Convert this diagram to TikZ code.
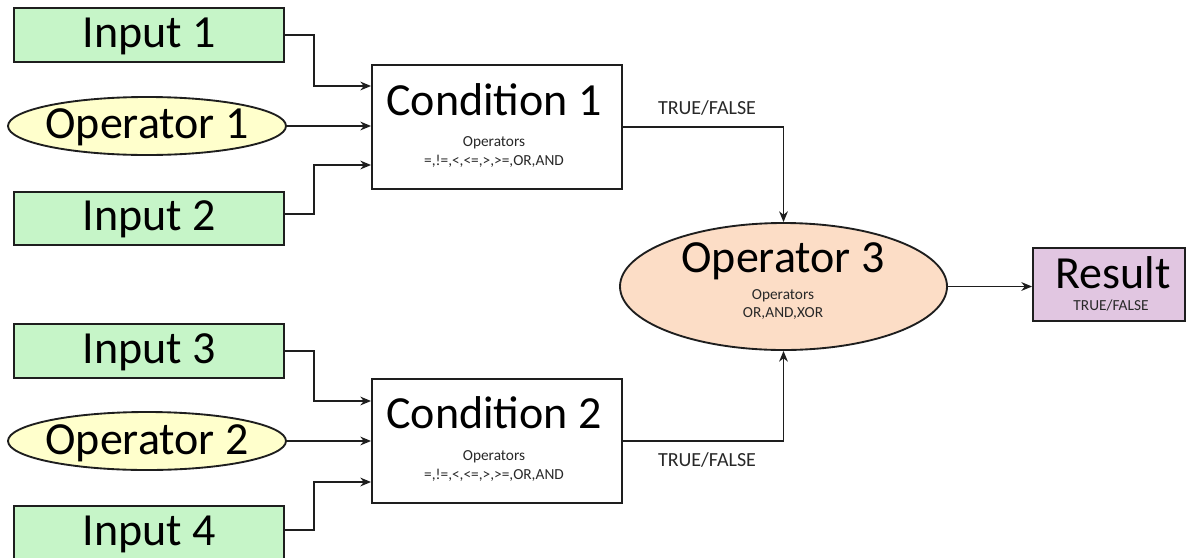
\documentclass[tikz,border=0pt]{standalone}
\usepackage{fontspec}
\setmainfont{Carlito}
\usetikzlibrary{shapes.geometric,arrows.meta,calc}
\definecolor{ingreen}{RGB}{198,245,200}
\definecolor{opyellow}{RGB}{255,255,204}
\definecolor{oppeach}{RGB}{252,221,198}
\definecolor{reslav}{RGB}{225,198,225}
\definecolor{linec}{RGB}{30,30,30}
\definecolor{smallc}{RGB}{40,40,40}
\tikzset{
  inbox/.style={draw=linec,line width=1.4pt,fill=ingreen,rectangle,inner sep=0pt,minimum width=202.5pt,minimum height=40.5pt},
  opell/.style={draw=linec,line width=1.4pt,fill=opyellow,ellipse,inner sep=0pt,minimum width=208.5pt,minimum height=43.5pt},
  condbox/.style={draw=linec,line width=1.4pt,fill=white,rectangle,inner sep=0pt,minimum width=187.5pt,minimum height=93pt},
  bigtxt/.style={anchor=base,inner sep=0pt,font=\fontsize{34.5pt}{36pt}\selectfont,text=black},
  smalltxt/.style={anchor=base,inner sep=0pt,font=\fontsize{11.5pt}{13pt}\selectfont,text=smallc},
  tftxt/.style={anchor=base,inner sep=0pt,font=\fontsize{15pt}{17pt}\selectfont,text=smallc},
  arr/.style={draw=linec,line width=1.3pt,-{Stealth[length=8pt,width=6.5pt,inset=2.5pt]}}
}
\begin{document}
\begin{tikzpicture}[x=0.75pt,y=-0.75pt]
\useasboundingbox[fill=white] (0,0) rectangle (1187,557);
% inputs and operators
\node[inbox] (in1) at (149,35) {};
\node[opell] (op1) at (147,126) {};
\node[inbox,minimum height=39.75pt] (in2) at (149,218.5) {};
\node[inbox] (in3) at (149,351) {};
\node[opell] (op2) at (147,441) {};
\node[inbox] (in4) at (149,533) {};
\node[bigtxt] (tin1) at (149.5,47) {Input 1};
\node[bigtxt] (top1) at (147,138) {Operator 1};
\node[bigtxt] (tin2) at (149.5,230) {Input 2};
\node[bigtxt] (tin3) at (149.5,363) {Input 3};
\node[bigtxt] (top2) at (147,454) {Operator 2};
\node[bigtxt] (tin4) at (149.5,545) {Input 4};
% conditions
\node[condbox] (cond1) at (497,127) {};
\node[condbox] (cond2) at (497,441) {};
\node[bigtxt] (tc1) at (494,115) {Condition 1};
\node[smalltxt] (tc1a) at (494,146) {Operators};
\node[smalltxt] (tc1b) at (494,165) {=,!=,<,<=,>,>=,OR,AND};
\node[bigtxt] (tc2) at (494,428) {Condition 2};
\node[smalltxt] (tc2a) at (494,460) {Operators};
\node[smalltxt] (tc2b) at (494,479) {=,!=,<,<=,>,>=,OR,AND};
% operator 3
\node[draw=linec,line width=1.4pt,fill=oppeach,ellipse,inner sep=0pt,minimum width=245.25pt,minimum height=95.25pt] (op3) at (783.5,286.5) {};
\node[bigtxt] (top3) at (783,272) {Operator 3};
\node[smalltxt] (top3a) at (783,299) {Operators};
\node[smalltxt] (top3b) at (783,317) {OR,AND,XOR};
% result
\node[draw=linec,line width=1.4pt,fill=reslav,rectangle,inner sep=0pt,minimum width=114pt,minimum height=54.75pt] (res) at (1109,284.5) {};
\node[bigtxt] (tres) at (1113,288) {Result};
\node[smalltxt] (tresb) at (1111,310) {TRUE/FALSE};
% labels
\node[tftxt] (tf1) at (707,114) {TRUE/FALSE};
\node[tftxt] (tf2) at (707,466) {TRUE/FALSE};
% connectors
\draw[arr] (in1.east) -- ++(29,0) |- ($(cond1.west)+(0,-41)$);
\draw[arr] (op1.east) -- (op1.east -| cond1.west);
\draw[arr] ($(in2.east)+(0,-4.5)$) -- ++(29,0) |- ($(cond1.west)+(0,38)$);
\draw[arr] (in3.east) -- ++(29,0) |- ($(cond2.west)+(0,-40)$);
\draw[arr] (op2.east) -- (op2.east -| cond2.west);
\draw[arr] ($(in4.east)+(0,-3)$) -- ++(29,0) |- ($(cond2.west)+(0,41)$);
\draw[arr] (cond1.east) -| (op3.north);
\draw[arr] (cond2.east) -| (op3.south);
\draw[arr] (op3.east) -- (op3.east -| res.west);
\end{tikzpicture}
\end{document}
